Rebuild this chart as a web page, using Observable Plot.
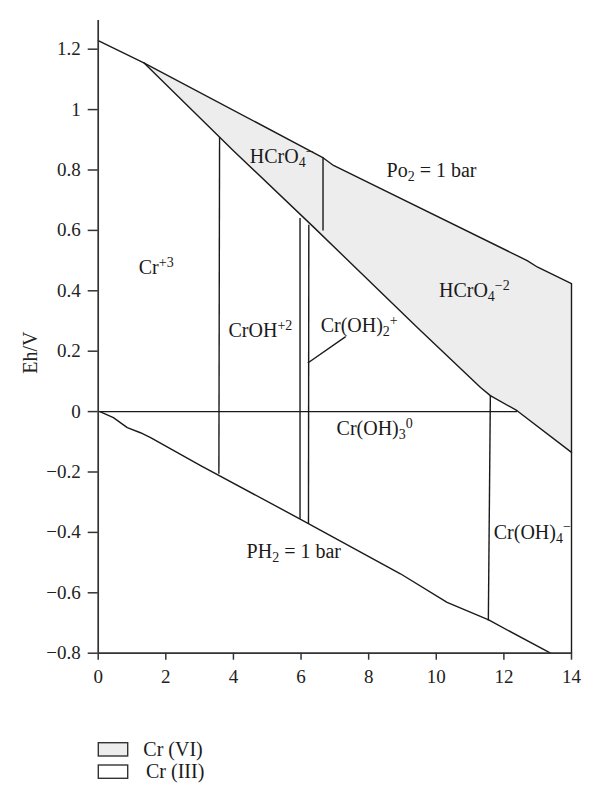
<!DOCTYPE html>
<html><head><meta charset="utf-8">
<script src="https://cdn.jsdelivr.net/npm/d3@7"></script>
<script src="https://cdn.jsdelivr.net/npm/@observablehq/plot@0.6"></script>
<style>body{margin:0;background:#fff;} #chart{width:600px;} svg{display:block;}</style>
</head><body><div id="chart"></div>
<script>
// ---- data ----
const xTicks = [0, 2, 4, 6, 8, 10, 12, 14];
const yTicks = [-0.8, -0.6, -0.4, -0.2, 0, 0.2, 0.4, 0.6, 0.8, 1, 1.2];
// Po2 = 1 bar (upper water stability line)
const o2pH = [0, 1.35, 6.63, 6.96, 12.69, 13.0, 14];
const o2Eh = [1.228, 1.155, 0.842, 0.815, 0.50, 0.478, 0.424];
// Cr(VI) / Cr(III) boundary
const viPH = [1.35, 4.0, 6.38, 9.24, 9.54, 11.31, 11.6, 12.39, 14];
const viEh = [1.155, 0.864, 0.61, 0.30, 0.268, 0.08, 0.053, 0.003, -0.135];
// PH2 = 1 bar (lower water stability line)
const h2pH = [0.05, 0.45, 0.86, 1.25, 1.55, 3.03, 5.96, 8.94, 10.32, 11.55, 13.38];
const h2Eh = [0, -0.02, -0.053, -0.07, -0.086, -0.179, -0.355, -0.537, -0.632, -0.69, -0.8];
// species boundaries (segments)
const segPH1 = [3.59, 5.97, 6.23, 6.65, 11.6, 0, 14, 6.2];
const segEh1 = [0.909, 0.641, 0.619, 0.842, 0.053, 0, 0.424, 0.161];
const segPH2 = [3.57, 5.97, 6.22, 6.65, 11.54, 12.39, 14, 7.32];
const segEh2 = [-0.206, -0.355, -0.372, 0.60, -0.692, 0.0, -0.8, 0.248];
// species labels
const labelText = ["Cr^{+3}", "CrOH^{+2}", "Cr(OH)_{2}^{+}", "HCrO_{4}^{−}", "Po_{2} = 1 bar",
  "HCrO_{4}^{−2}", "Cr(OH)_{3}^{0}", "PH_{2} = 1 bar", "Cr(OH)_{4}^{−}"];
const labelPH = [1.20, 3.855, 6.58, 4.485, 8.53, 10.08, 7.05, 4.39, 11.70];
const labelEh = [0.454, 0.246, 0.263, 0.822, 0.776, 0.379, -0.079, -0.486, -0.421];
// legend
const legendLabels = ["Cr (VI)", "Cr (III)"];
const legendFills = ["#ededed", "#ffffff"];

// ---- build tables ----
const o2 = o2pH.map((x, i) => ({x, y: o2Eh[i]}));
const vi = viPH.map((x, i) => ({x, y: viEh[i]}));
const h2 = h2pH.map((x, i) => ({x, y: h2Eh[i]}));
const poly = o2.filter(d => d.x >= 1.35).concat(vi.slice().reverse());
const segs = segPH1.map((x1, i) => ({x1, y1: segEh1[i], x2: segPH2[i], y2: segEh2[i]}));
const labels = labelText.map((t, i) => ({t, x: labelPH[i], y: labelEh[i]}));

const ink = "#1a1a1a";
const font = "'Liberation Serif', 'DejaVu Serif', serif";

const chart = Plot.plot({
  width: 600, height: 700,
  marginLeft: 97.7, marginRight: 29, marginTop: 20, marginBottom: 47.3,
  x: {domain: [0, 14]},
  y: {domain: [-0.8, 1.295]},
  style: {fontFamily: font, fontSize: "19px", color: "#222", background: "white"},
  marks: [
    Plot.line(poly, {x: "x", y: "y", fill: "#ededed", stroke: "none"}),
    Plot.line(o2, {x: "x", y: "y", stroke: ink, strokeWidth: 1.4}),
    Plot.line(vi, {x: "x", y: "y", stroke: ink, strokeWidth: 1.4}),
    Plot.line(h2, {x: "x", y: "y", stroke: ink, strokeWidth: 1.4}),
    Plot.link(segs, {x1: "x1", y1: "y1", x2: "x2", y2: "y2", stroke: ink, strokeWidth: 1.4}),
    Plot.ruleX([0], {stroke: "#333", strokeWidth: 1.7}),
    Plot.ruleY([-0.8], {stroke: "#333", strokeWidth: 1.7}),
    Plot.axisX({ticks: xTicks, tickSize: 7, tickPadding: 9, label: null, stroke: "#333", strokeWidth: 1.5,
      fontSize: 19, tickFormat: d => d3.format("~g")(d)}),
    Plot.axisY({ticks: yTicks, tickSize: 10, tickPadding: 7.5, label: null, stroke: "#333", strokeWidth: 1.5,
      fontSize: 19, tickFormat: d => d3.format("~g")(d)}),
    Plot.text(["Eh/V"], {frameAnchor: "left", rotate: -90, dx: -61, dy: 15.7, textAnchor: "middle",
      lineAnchor: "bottom", fontSize: 20, fill: "#222"}),
    Plot.text(labels, {x: "x", y: "y", text: "t", textAnchor: "start", lineAnchor: "bottom",
      fontSize: 20, fill: "#1a1a1a"})
  ]
});

// make sure tick labels use the intended size
d3.select(chart).selectAll('g[aria-label$="tick label"]').attr("font-size", 19).style("font-size", "19px");

// render sub/superscripts as tspans
d3.select(chart).selectAll("text").each(function() {
  const el = this;
  const src = el.textContent;
  if (!/[_^]\{/.test(src)) return;
  while (el.firstChild) el.removeChild(el.firstChild);
  const re = /(_\{[^}]*\}|\^\{[^}]*\})/g;
  const parts = src.split(re).filter(s => s.length);
  let prev = 0;
  for (const p of parts) {
    let shift = 0, size = null, txt = p;
    if (p.startsWith("_{")) { shift = 4; size = 14; txt = p.slice(2, -1); }
    else if (p.startsWith("^{")) { shift = -7.5; size = 14; txt = p.slice(2, -1); }
    const ts = document.createElementNS("http://www.w3.org/2000/svg", "tspan");
    ts.setAttribute("dy", shift - prev);
    if (size) ts.setAttribute("font-size", size);
    ts.textContent = txt;
    el.appendChild(ts);
    prev = shift;
  }
});

document.getElementById("chart").appendChild(chart);

// legend below the plot
const leg = d3.create("svg").attr("width", 600).attr("height", 104)
  .style("font-family", font).style("font-size", "20px");
const legX = [143.3, 146];
legendLabels.forEach((lab, i) => {
  const top = 42.7 + i * 22.3;
  leg.append("rect").attr("x", 98.3).attr("y", top).attr("width", 29.4).attr("height", 13.3)
    .attr("fill", legendFills[i]).attr("stroke", "#333").attr("stroke-width", 1.4);
  leg.append("text").attr("x", legX[i]).attr("y", top + 13.3).attr("fill", "#1a1a1a").text(lab);
});
document.getElementById("chart").appendChild(leg.node());
</script>
</body></html>
